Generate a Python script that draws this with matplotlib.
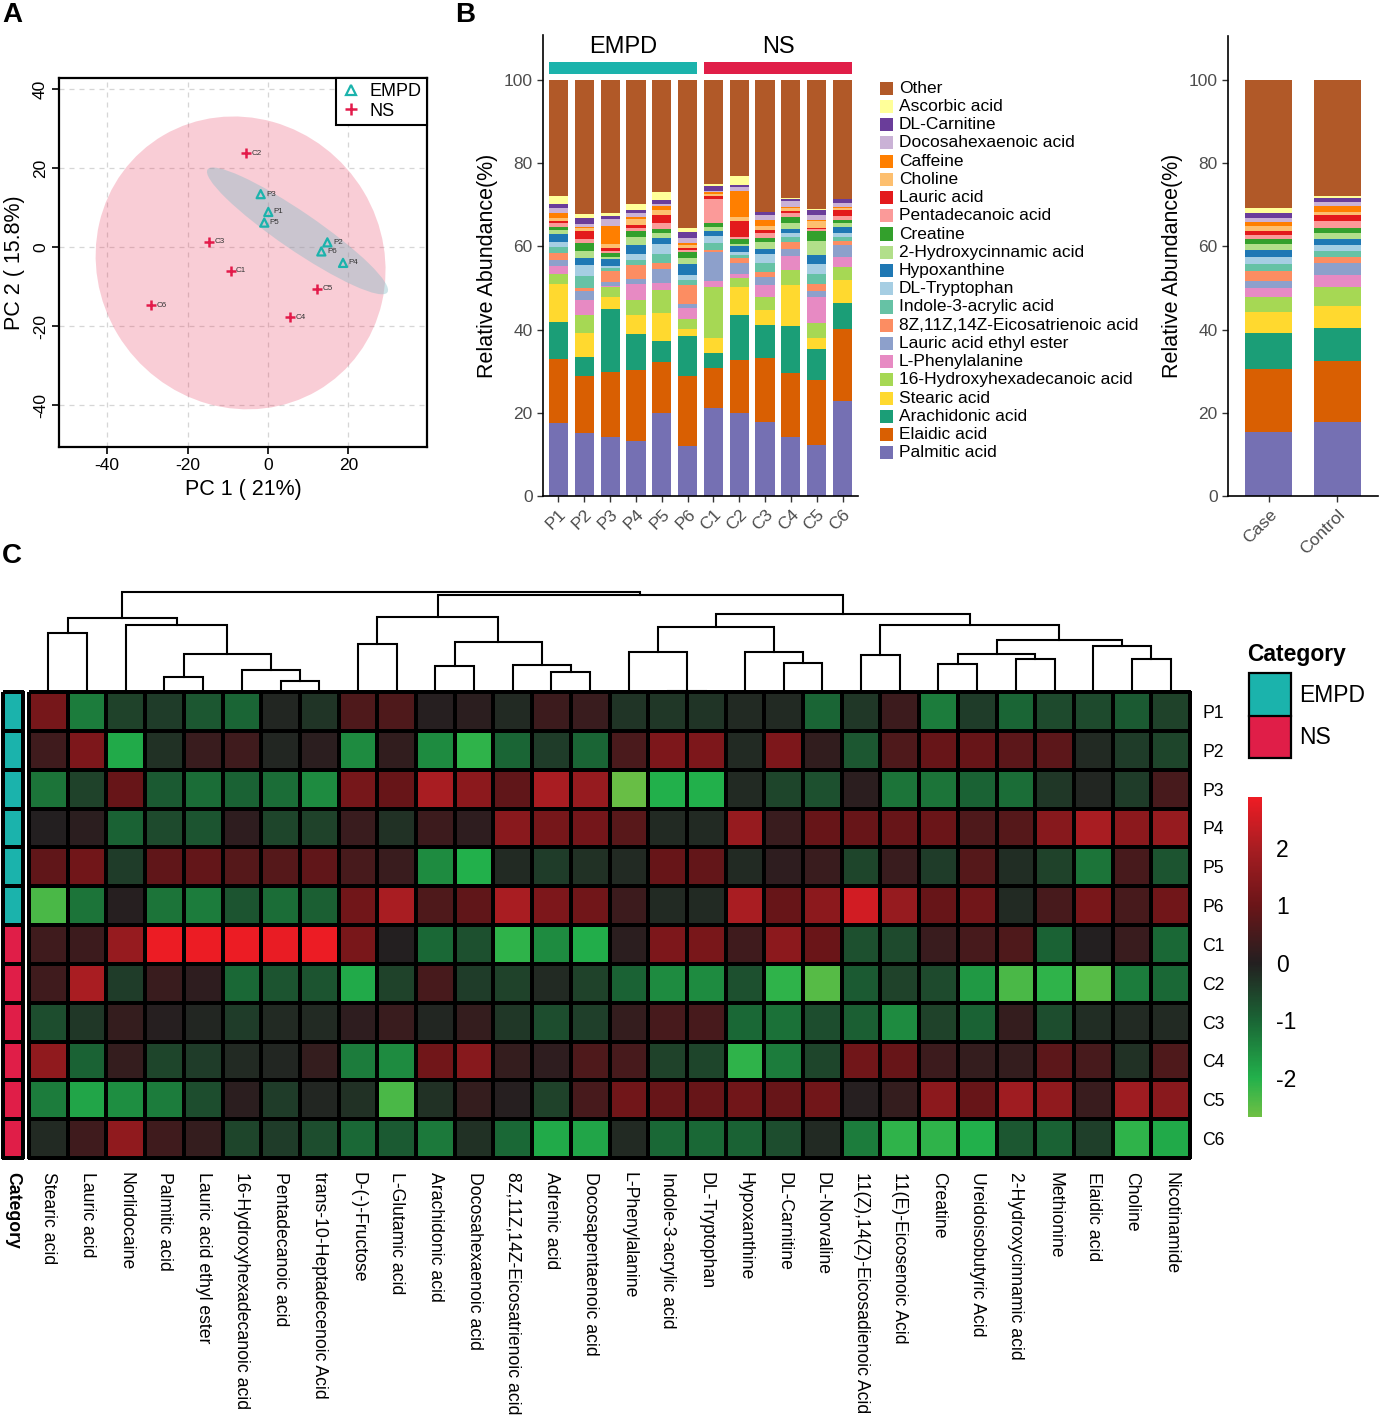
import numpy as np
import matplotlib
matplotlib.use('Agg')
import matplotlib.pyplot as plt
from matplotlib.colors import LinearSegmentedColormap, Normalize, ListedColormap
from matplotlib.patches import Ellipse, Rectangle
from matplotlib.lines import Line2D
from matplotlib.cm import ScalarMappable

plt.rcParams['font.family'] = ['Liberation Sans', 'DejaVu Sans']
plt.rcParams['axes.unicode_minus'] = False

W, H = 1382, 1417
fig = plt.figure(figsize=(W / 100, H / 100), dpi=100)


def axpx(l, t, r, b):
    return fig.add_axes([l / W, 1 - b / H, (r - l) / W, (b - t) / H])

# ---------------------------------------------------------------- data A
pca_samples = ['P1', 'P2', 'P3', 'P4', 'P5', 'P6', 'C1', 'C2', 'C3', 'C4', 'C5', 'C6']
pca_group = ['EMPD'] * 6 + ['NS'] * 6
pc1 = [0.1, 14.8, -1.8, 18.7, -0.9, 13.3, -9.3, -5.5, -14.6, 5.5, 12.3, -29.2]
pc2 = [8.9, 1.2, 13.4, -4.0, 6.2, -1.1, -6.0, 23.7, 1.3, -17.8, -10.5, -14.7]

# ---------------------------------------------------------------- data B
metabolites = ['Palmitic acid', 'Elaidic acid', 'Arachidonic acid', 'Stearic acid',
               '16-Hydroxyhexadecanoic acid', 'L-Phenylalanine', 'Lauric acid ethyl ester',
               '8Z,11Z,14Z-Eicosatrienoic acid', 'Indole-3-acrylic acid', 'DL-Tryptophan',
               'Hypoxanthine', '2-Hydroxycinnamic acid', 'Creatine', 'Pentadecanoic acid',
               'Lauric acid', 'Choline', 'Caffeine', 'Docosahexaenoic acid', 'DL-Carnitine',
               'Ascorbic acid', 'Other']
met_colors = ['#7570b3', '#d95f02', '#1b9e77', '#ffd92f', '#a6d854', '#e78ac3', '#8da0cb',
              '#fc8d62', '#66c2a5', '#a6cee3', '#1f78b4', '#b2df8a', '#33a02c', '#fb9a99',
              '#e31a1c', '#fdbf6f', '#ff7f00', '#cab2d6', '#6a3d9a', '#ffff99', '#b15928']

bar_samples = ['P1', 'P2', 'P3', 'P4', 'P5', 'P6', 'C1', 'C2', 'C3', 'C4', 'C5', 'C6']
# cumulative tops (%) of each stacked segment, bottom -> top (Other fills to 100)
tops_P1 = [17.5, 32.9, 41.8, 51.0, 53.4, 55.3, 56.7, 58.3, 59.8, 61.1, 63.0, 63.9, 64.7, 65.5, 66.1, 66.8, 68.0, 69.2, 70.1, 72.2]
tops_P2 = [15.1, 28.8, 33.4, 39.1, 43.5, 47.0, 49.3, 50.1, 52.9, 55.6, 57.1, 59.0, 60.8, 61.8, 63.8, 64.3, 64.7, 65.3, 66.7, 67.7]
tops_P3 = [14.3, 29.9, 44.9, 47.9, 50.2, 50.4, 51.4, 54.1, 54.7, 55.3, 56.9, 57.5, 58.3, 58.8, 59.6, 60.6, 64.9, 66.5, 67.3, 68.1]
tops_P4 = [13.1, 30.4, 38.9, 43.4, 47.1, 51.0, 52.1, 55.5, 56.7, 58.1, 60.3, 62.2, 63.8, 64.5, 65.1, 66.6, 67.0, 68.0, 68.8, 70.1]
tops_P5 = [19.9, 32.3, 37.3, 43.9, 49.5, 51.3, 54.6, 55.9, 58.2, 60.5, 61.9, 63.2, 64.2, 65.7, 67.6, 68.8, 69.6, 70.1, 71.2, 73.0]
tops_P6 = [12.0, 28.8, 38.4, 40.1, 42.6, 45.2, 46.2, 50.6, 51.8, 53.1, 55.8, 57.1, 58.7, 59.1, 59.6, 60.4, 60.7, 62.0, 63.4, 64.4]
tops_C1 = [21.2, 30.7, 34.3, 37.9, 50.2, 51.7, 58.7, 59.1, 60.9, 62.5, 63.7, 64.7, 65.7, 71.5, 72.2, 72.6, 73.0, 73.4, 74.5, 75.0]
tops_C2 = [20.0, 32.7, 43.5, 50.2, 52.4, 53.4, 56.0, 57.3, 58.0, 58.7, 60.1, 60.6, 61.7, 62.3, 66.2, 67.0, 73.2, 74.2, 74.8, 76.8]
tops_C3 = [17.9, 33.1, 41.2, 44.7, 47.8, 50.6, 52.7, 53.9, 56.1, 58.1, 59.3, 61.0, 62.1, 63.1, 63.9, 64.9, 66.3, 67.5, 68.2, 68.3]
tops_C4 = [14.1, 29.6, 40.9, 50.7, 54.3, 57.7, 59.3, 61.1, 62.2, 63.3, 64.2, 65.6, 67.0, 68.0, 68.4, 69.2, 69.4, 70.8, 71.3, 71.6]
tops_C5 = [12.3, 28.0, 35.3, 37.9, 41.7, 47.8, 49.3, 50.9, 53.3, 55.7, 58.0, 61.3, 63.6, 64.2, 64.5, 66.2, 66.3, 67.6, 68.8, 68.9]
tops_C6 = [22.8, 40.1, 46.5, 52.0, 55.1, 57.4, 60.3, 61.3, 62.2, 63.1, 64.6, 65.7, 66.4, 67.3, 68.8, 69.2, 69.4, 70.5, 71.3, 71.4]
sample_tops = [tops_P1, tops_P2, tops_P3, tops_P4, tops_P5, tops_P6,
               tops_C1, tops_C2, tops_C3, tops_C4, tops_C5, tops_C6]

group_samples = ['Case', 'Control']
tops_Case = [15.3, 30.5, 39.1, 44.3, 47.8, 50.1, 51.7, 54.1, 55.8, 57.4, 59.1, 60.6, 61.8, 62.7, 63.7, 64.8, 65.9, 66.9, 68.0, 69.3]
tops_Control = [17.9, 32.5, 40.3, 45.7, 50.3, 53.2, 56.1, 57.4, 58.9, 60.4, 61.7, 63.2, 64.5, 66.2, 67.5, 68.4, 69.8, 70.8, 71.6, 72.1]
group_tops = [tops_Case, tops_Control]

# ---------------------------------------------------------------- data C
hm_cols = ['Stearic acid', 'Lauric acid', 'Norlidocaine', 'Palmitic acid', 'Lauric acid ethyl ester',
           '16-Hydroxyhexadecanoic acid', 'Pentadecanoic acid', 'trans-10-Heptadecenoic Acid',
           'D-(-)-Fructose', 'L-Glutamic acid', 'Arachidonic acid', 'Docosahexaenoic acid',
           '8Z,11Z,14Z-Eicosatrienoic acid', 'Adrenic acid', 'Docosapentaenoic acid',
           'L-Phenylalanine', 'Indole-3-acrylic acid', 'DL-Tryptophan', 'Hypoxanthine',
           'DL-Carnitine', 'DL-Norvaline', '11(Z),14(Z)-Eicosadienoic Acid', '11(E)-Eicosenoic Acid',
           'Creatine', 'Ureidoisobutyric Acid', '2-Hydroxycinnamic acid', 'Methionine',
           'Elaidic acid', 'Choline', 'Nicotinamide']
hm_rows = ['P1', 'P2', 'P3', 'P4', 'P5', 'P6', 'C1', 'C2', 'C3', 'C4', 'C5', 'C6']
hm_row_group = ['EMPD'] * 6 + ['NS'] * 6
z_P1 = [1.2, -1.3, -0.5, -0.4, -0.8, -1.0, -0.1, -0.3, 0.6, 0.6, 0.05, 0.1, -0.15, 0.35, 0.3, -0.3, -0.35, -0.3, -0.15, -0.15, -1.0, -0.35, 0.35, -1.3, -0.4, -1.0, -0.6, -0.6, -0.85, -0.5]
z_P2 = [0.4, 1.3, -1.9, -0.25, 0.3, 0.4, -0.1, 0.1, -1.5, 0.2, -1.5, -2.1, -1.0, -0.4, -1.0, 0.55, 1.3, 1.3, -0.15, 1.3, 0.2, -0.8, 0.6, 0.95, 0.95, 0.8, 0.8, -0.15, -0.4, -0.55]
z_P3 = [-1.2, -0.5, 0.95, -0.85, -1.1, -0.95, -1.1, -1.5, 1.2, 0.95, 2.0, 1.55, 0.85, 2.0, 1.7, -2.6, -2.0, -2.0, -0.15, -0.55, -0.7, 0.1, -1.2, -1.2, -0.95, -1.1, -0.35, -0.1, -0.4, 0.5]
z_P4 = [0.0, 0.1, -0.95, -0.6, -0.75, 0.15, -0.55, -0.5, 0.3, -0.25, 0.35, 0.15, 1.5, 1.2, 1.15, 0.75, -0.15, -0.15, 1.7, 0.3, 0.95, 0.95, 0.95, 1.0, 0.6, 0.7, 1.45, 2.0, 1.55, 1.7]
z_P5 = [0.85, 1.1, -0.4, 0.85, 0.9, 0.7, 0.7, 0.85, 0.5, 0.3, -1.5, -2.0, -0.15, -0.4, -0.25, -0.15, 0.95, 0.9, -0.15, 0.15, 0.3, -0.55, 0.3, -0.4, 0.7, -0.2, -0.5, -1.2, 0.5, -0.75]
z_P6 = [-2.35, -1.2, 0.05, -1.2, -1.3, -0.75, -1.1, -0.9, 1.1, 2.0, 0.6, 0.85, 2.0, 1.3, 1.1, 0.35, -0.15, -0.15, 2.0, 0.95, 1.55, 2.5, 1.7, 0.95, 1.1, -0.15, 0.5, 1.25, 0.5, 1.1]
z_C1 = [0.4, 0.35, 1.7, 2.85, 2.85, 2.85, 2.8, 2.85, 1.25, 0.0, -1.05, -0.7, -2.1, -1.5, -1.95, 0.1, 1.3, 1.25, 0.4, 1.55, 1.0, -0.7, -0.6, 0.3, 0.5, 0.6, -0.95, 0.0, 0.3, -1.05]
z_C2 = [0.4, 2.0, -0.4, 0.3, 0.15, -1.05, -0.75, -0.75, -1.9, -0.5, 0.5, -0.4, -0.5, -0.15, -0.5, -0.95, -1.5, -1.5, -0.7, -2.1, -2.45, -0.85, -0.5, -0.6, -1.7, -2.35, -2.1, -2.45, -1.3, -1.05]
z_C3 = [-0.65, -0.35, 0.25, 0.05, -0.1, -0.4, -0.15, -0.15, 0.15, 0.3, -0.1, 0.25, -0.35, -0.65, -0.45, 0.25, 0.5, 0.5, -1.05, -1.15, -0.65, -0.9, -1.5, -0.5, -0.95, 0.25, -0.65, -0.2, -0.15, -0.15]
z_C4 = [1.6, -0.95, 0.25, -0.55, -0.4, -0.15, -0.1, 0.25, -1.3, -1.5, 1.1, 1.45, 0.25, 0.15, 0.6, 0.5, -0.5, -0.55, -2.1, -1.3, -0.55, 1.1, 0.95, 0.35, 0.25, 0.25, 0.8, 0.5, -0.25, 0.6]
z_C5 = [-1.3, -1.85, -1.55, -1.3, -0.65, 0.1, -0.4, -0.1, -0.25, -2.35, -0.25, 0.25, 0.05, -0.5, 0.5, 1.1, 0.95, 0.95, 1.1, 0.95, 1.1, 0.05, 0.25, 1.55, 0.95, 1.85, 1.6, 0.3, 1.85, 1.5]
z_C6 = [-0.15, 0.4, 1.6, 0.4, 0.25, -0.55, -0.4, -0.65, -1.05, -0.85, -1.25, -0.25, -1.05, -1.9, -1.85, -0.15, -1.05, -1.05, -0.95, -0.65, -0.15, -1.3, -2.1, -2.1, -2.0, -0.8, -0.95, -0.45, -2.1, -1.9]
hm_values = [z_P1, z_P2, z_P3, z_P4, z_P5, z_P6, z_C1, z_C2, z_C3, z_C4, z_C5, z_C6]
# column dendrogram merges: (left id, right id, height); leaves 0..29, new clusters 30..
col_merges = [(0, 1, 0.591), (3, 4, 0.15), (6, 7, 0.11), (5, 32, 0.216), (31, 33, 0.379),
              (2, 34, 0.671), (30, 35, 0.741), (8, 9, 0.478), (10, 11, 0.259), (13, 14, 0.2),
              (12, 39, 0.266), (38, 40, 0.502), (37, 41, 0.748), (16, 17, 0.01), (15, 43, 0.40),
              (19, 20, 0.286), (18, 45, 0.40), (44, 46, 0.65), (21, 22, 0.37), (23, 24, 0.28),
              (25, 26, 0.326), (49, 50, 0.38), (28, 29, 0.326), (27, 52, 0.465), (51, 53, 0.52),
              (48, 54, 0.668), (47, 55, 0.78), (42, 56, 0.967), (36, 57, 1.0)]

group_colors = {'EMPD': '#1bb3ac', 'NS': '#e01e48'}
TEAL = '#1bb3ac'
RED_M = '#e31a4a'

# ================================================================ panel A
axA = axpx(59, 78, 427, 447)
axA.set_xlim(-52, 39.6)
axA.set_ylim(-50.6, 42.8)
for v in [-40, -20, 0, 20]:
    axA.axvline(v, color='#d6d6d6', lw=0.9, ls=(0, (4, 4)), zorder=0)
for v in [-40, -20, 0, 20, 40]:
    axA.axhline(v, color='#d6d6d6', lw=0.9, ls=(0, (4, 4)), zorder=0)


def conf_ellipse(x, y, **kw):
    x = np.asarray(x, float)
    y = np.asarray(y, float)
    cov = np.cov(x, y)
    vals, vecs = np.linalg.eigh(cov)
    order = vals.argsort()[::-1]
    vals, vecs = vals[order], vecs[:, order]
    ang = np.degrees(np.arctan2(vecs[1, 0], vecs[0, 0]))
    k = np.sqrt(5.991)
    return Ellipse((x.mean(), y.mean()), 2 * k * np.sqrt(vals[0]), 2 * k * np.sqrt(vals[1]),
                   angle=ang, **kw)


pc1a = np.array(pc1)
pc2a = np.array(pc2)
isP = np.array([g == 'EMPD' for g in pca_group])
axA.add_patch(conf_ellipse(pc1a[~isP], pc2a[~isP], facecolor='#e8294f', alpha=0.23,
                           edgecolor='none', zorder=1))
axA.add_patch(conf_ellipse(pc1a[isP], pc2a[isP], facecolor='#7fb9c4', alpha=0.38,
                           edgecolor='none', zorder=2))
axA.scatter(pc1a[isP], pc2a[isP], marker='^', s=34, facecolors='none', edgecolors=TEAL,
            linewidths=1.6, zorder=4)
axA.scatter(pc1a[~isP], pc2a[~isP], marker='+', s=60, color=RED_M, linewidths=1.8, zorder=4)
for name, xv, yv in zip(pca_samples, pc1, pc2):
    axA.annotate(name, (xv, yv), xytext=(4, 0), textcoords='offset points', fontsize=5.8,
                 va='center', ha='left', color='#333333', zorder=5)
axA.set_xticks([-40, -20, 0, 20])
axA.set_yticks([-40, -20, 0, 20, 40])
axA.set_yticklabels(['-40', '-20', '0', '20', '40'], rotation=90, va='center')
axA.tick_params(labelsize=12.5, length=5, width=1.2, direction='out', pad=3)
for s in axA.spines.values():
    s.set_linewidth(1.6)
axA.set_xlabel('PC 1 ( 21%)', fontsize=15.5, labelpad=4)
axA.set_ylabel('PC 2 ( 15.8%)', fontsize=15.5, labelpad=6)
legA = axA.legend(handles=[
    Line2D([], [], marker='^', ls='none', markerfacecolor='none', markeredgecolor=TEAL,
           markeredgewidth=1.6, markersize=6.5, label='EMPD'),
    Line2D([], [], marker='+', ls='none', color=RED_M, markeredgewidth=1.8, markersize=8,
           label='NS')],
    loc='upper right', borderaxespad=0, fancybox=False, framealpha=1, edgecolor='black',
    fontsize=13, handlelength=1.0, handletextpad=0.55, borderpad=0.3, labelspacing=0.12)
legA.get_frame().set_linewidth(1.5)

# ================================================================ panel B (samples)
axB = axpx(543, 35, 858, 496)
xs = np.arange(1, len(bar_samples) + 1)
heights = np.array([np.diff([0] + t + [100]) for t in sample_tops])  # samples x metabolites
bottom = np.zeros(len(bar_samples))
for j, col in enumerate(met_colors):
    axB.bar(xs, heights[:, j], bottom=bottom, width=0.74, color=col, linewidth=0)
    bottom += heights[:, j]
axB.set_xlim(0.4, 12.6)
axB.set_ylim(0, 110.8)
grp_idx = {'EMPD': [i for i, s in enumerate(bar_samples) if s.startswith('P')],
           'NS': [i for i, s in enumerate(bar_samples) if s.startswith('C')]}
for g, idx in grp_idx.items():
    x0 = xs[idx[0]] - 0.37
    x1 = xs[idx[-1]] + 0.37
    axB.bar((x0 + x1) / 2, 2.8, bottom=101.4, width=x1 - x0, color=group_colors[g], linewidth=0)
    axB.text((x0 + x1) / 2, 107.9, g, ha='center', va='center', fontsize=17)
axB.set_xticks(xs)
axB.set_xticklabels(bar_samples, rotation=45, ha='right', va='top', rotation_mode='anchor')
axB.set_yticks([0, 20, 40, 60, 80, 100])
axB.tick_params(labelsize=12.5, labelcolor='#4d4d4d', color='#333333', length=4, width=1)
axB.spines['top'].set_visible(False)
axB.spines['right'].set_visible(False)
axB.spines['left'].set_linewidth(1.2)
axB.spines['bottom'].set_linewidth(1.2)
axB.set_ylabel('Relative Abundance(%)', fontsize=15.5, labelpad=4)

# legend for B
axL = axpx(878, 79, 1160, 462)
axL.set_xlim(0, 282)
axL.set_ylim(21, 0)
for i, j in enumerate(range(len(metabolites) - 1, -1, -1)):
    axL.barh(i + 0.5, 13, left=2, height=0.72, color=met_colors[j], linewidth=0)
    axL.text(21, i + 0.5, metabolites[j], va='center', ha='left', fontsize=12.5)
axL.axis('off')

# ================================================================ panel B (groups)
axG = axpx(1228, 36, 1378, 496)
xg = np.arange(1, len(group_samples) + 1)
gheights = np.array([np.diff([0] + t + [100]) for t in group_tops])
gb = np.zeros(len(group_samples))
for j, col in enumerate(met_colors):
    axG.bar(xg, gheights[:, j], bottom=gb, width=0.69, color=col, linewidth=0)
    gb += gheights[:, j]
axG.set_xlim(0.4, 2.6)
axG.set_ylim(0, 110.6)
axG.set_xticks(xg)
axG.set_xticklabels(group_samples, rotation=45, ha='right', va='top', rotation_mode='anchor')
axG.set_yticks([0, 20, 40, 60, 80, 100])
axG.tick_params(labelsize=12.5, labelcolor='#4d4d4d', color='#333333', length=4, width=1)
axG.spines['top'].set_visible(False)
axG.spines['right'].set_visible(False)
axG.spines['left'].set_linewidth(1.2)
axG.spines['bottom'].set_linewidth(1.2)
axG.set_ylabel('Relative Abundance(%)', fontsize=15.5, labelpad=4)

# ================================================================ panel C
vmin, vmax = -2.68, 2.88
cnodes = [(-2.68, '#6fc044'), (-2.0, '#22b04b'), (-1.0, '#1a6535'), (0.0, '#231f20'),
          (1.0, '#6a1518'), (2.0, '#a81d22'), (2.88, '#ee1c24')]
cmap = LinearSegmentedColormap.from_list(
    'gbr', [((v - vmin) / (vmax - vmin), c) for v, c in cnodes])
norm = Normalize(vmin, vmax)

axH = axpx(29, 692, 1190, 1158)
Z = np.array(hm_values)
mesh = axH.pcolormesh(np.arange(len(hm_cols) + 1), np.arange(len(hm_rows) + 1), Z,
                      cmap=cmap, norm=norm, edgecolors='black', linewidth=1.6)
mesh.set_clip_on(False)
axH.set_xlim(0, len(hm_cols))
axH.set_ylim(len(hm_rows), 0)
for s in axH.spines.values():
    s.set_visible(False)
axH.set_xticks(np.arange(len(hm_cols)) + 0.5)
axH.set_xticklabels(hm_cols, rotation=270, ha='center', va='top', fontsize=12.7)
axH.yaxis.tick_right()
axH.set_yticks(np.arange(len(hm_rows)) + 0.5)
axH.set_yticklabels(hm_rows, fontsize=12.7)
axH.tick_params(length=0)
axH.tick_params(axis='x', pad=10)
axH.tick_params(axis='y', pad=9)

# annotation column
axCat = axpx(3, 692, 23, 1158)
cat_codes = np.array([[0 if g == 'EMPD' else 1] for g in hm_row_group])
m2 = axCat.pcolormesh([0, 1], np.arange(len(hm_rows) + 1), cat_codes,
                      cmap=ListedColormap([group_colors['EMPD'], group_colors['NS']]),
                      vmin=0, vmax=1, edgecolors='black', linewidth=1.6)
m2.set_clip_on(False)
axCat.set_xlim(0, 1)
axCat.set_ylim(len(hm_rows), 0)
for s in axCat.spines.values():
    s.set_visible(False)
axCat.set_yticks([])
axCat.set_xticks([0.5])
axCat.set_xticklabels(['Category'], rotation=270, ha='center', va='top', fontsize=12.7,
                      fontweight='bold')
axCat.tick_params(length=0, pad=10)

# dendrogram
axD = axpx(29, 588, 1190, 692)
axD.set_xlim(0, len(hm_cols))
axD.set_ylim(0, 1.04)
pos = {i: i + 0.5 for i in range(len(hm_cols))}
hgt = {i: 0.0 for i in range(len(hm_cols))}
nid = len(hm_cols)
for a, b, h in col_merges:
    axD.plot([pos[a], pos[a], pos[b], pos[b]], [hgt[a], h, h, hgt[b]], color='black',
             lw=1.5, solid_joinstyle='miter', clip_on=False)
    pos[nid] = (pos[a] + pos[b]) / 2
    hgt[nid] = h
    nid += 1
axD.axis('off')

# category legend
axCL = axpx(1240, 636, 1382, 770)
axCL.set_xlim(1240, 1382)
axCL.set_ylim(770, 636)
axCL.text(1247, 655, 'Category', fontsize=16.5, fontweight='bold', va='center', ha='left')
for k, g in enumerate(['EMPD', 'NS']):
    axCL.add_patch(Rectangle((1249, 673 + 42.5 * k), 42, 42.5, facecolor=group_colors[g],
                             edgecolor='none'))
    axCL.text(1299, 695 + 42 * k, g, fontsize=16.5, va='center', ha='left')
axCL.add_patch(Rectangle((1249, 673), 42, 85, facecolor='none', edgecolor='black', lw=1.6))
axCL.plot([1249, 1291], [715.5, 715.5], color='black', lw=1.6)
axCL.axis('off')

# colorbar
axCB = axpx(1248, 797, 1262, 1117)
cb = fig.colorbar(ScalarMappable(norm=norm, cmap=cmap), cax=axCB, ticks=[-2, -1, 0, 1, 2])
cb.outline.set_visible(False)
cb.ax.set_yticklabels(['-2', '-1', '0', '1', '2'])
cb.ax.tick_params(length=0, labelsize=16.5, pad=10)

# panel labels
fig.text(2 / W, 1 - 2 / H, 'A', fontsize=20, fontweight='bold', va='top', ha='left')
fig.text(455 / W, 1 - 2 / H, 'B', fontsize=20, fontweight='bold', va='top', ha='left')
fig.text(2 / W, 1 - 543 / H, 'C', fontsize=20, fontweight='bold', va='top', ha='left')

fig.savefig('out.png', dpi=100)
